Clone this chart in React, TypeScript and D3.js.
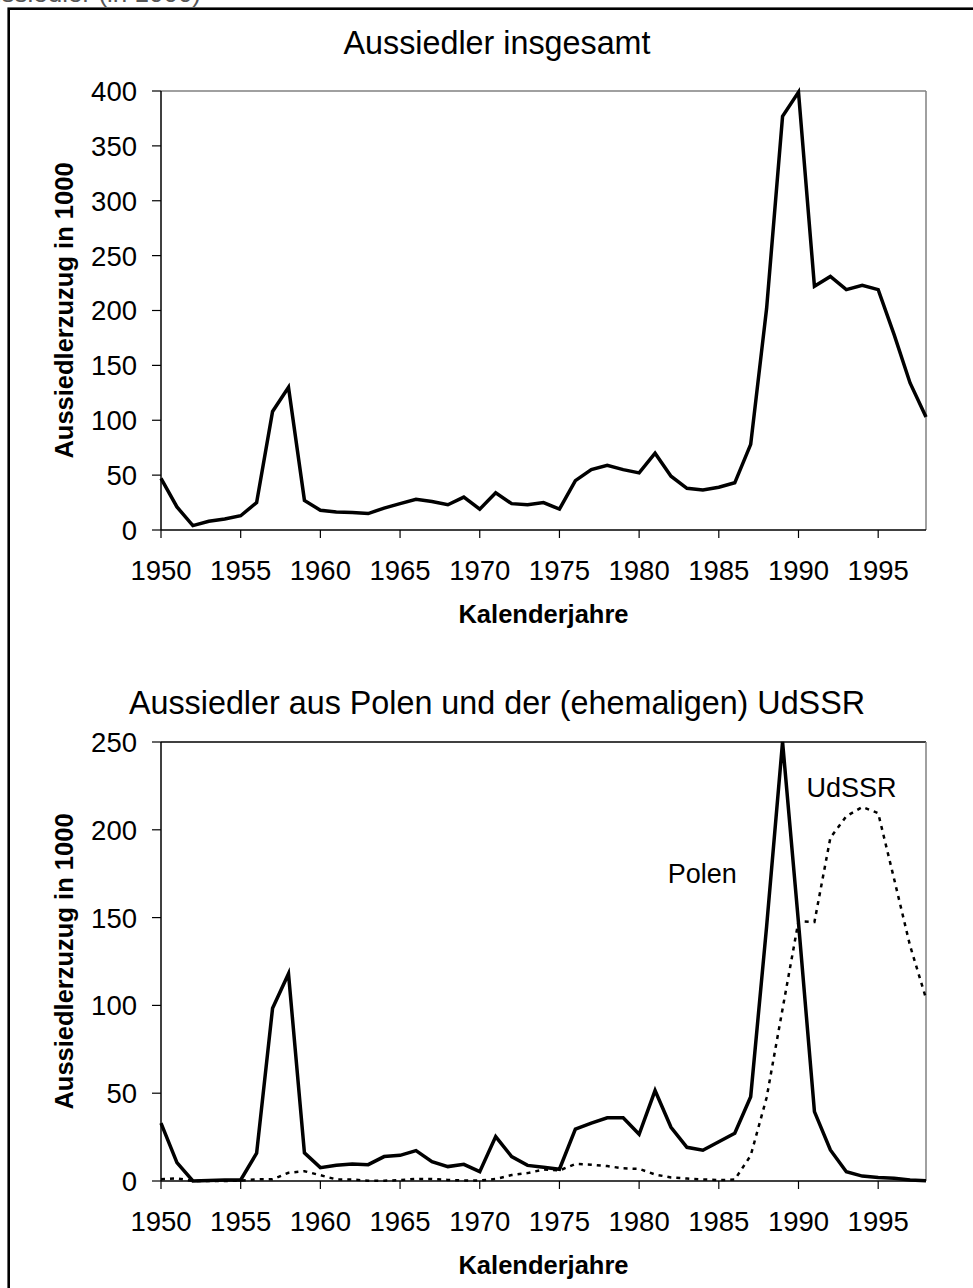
import React from "react";
import * as d3 from "d3";

const years = d3.range(1950, 1999);

// Aussiedler insgesamt (in 1000)
const totalValues = [
  47, 21, 4, 8, 10, 13, 25, 108, 130, 27,
  18, 16.5, 16, 15, 20, 24, 28, 26, 23, 30,
  19, 34, 24, 23, 25, 19, 45, 55, 59, 55,
  52, 70, 49, 38, 36.5, 39, 43, 78, 202, 377,
  399, 222, 231, 219, 223, 219, 178, 134, 103
];

// Polen (in 1000)
const polenValues = [
  33, 10.5, 0, 0.3, 0.5, 0.6, 15.8, 98.4, 118, 16,
  7.6, 9, 9.7, 9.3, 13.9, 14.6, 17.3, 11, 8.2, 9.5,
  5.3, 25.3, 13.9, 8.9, 7.8, 6.7, 29.5, 33, 36, 36,
  26.6, 51.5, 30.6, 19.2, 17.5, 22.4, 27.2, 48, 145, 250,
  147, 39.5, 17.7, 5.3, 2.8, 2, 1.5, 0.6, 0.2
];

// (ehemalige) UdSSR (in 1000)
const udssrValues = [
  1, 1.5, 0, 0, 0, 0.2, 1, 1, 4.7, 5.6,
  3.3, 0.9, 0.8, 0.2, 0.2, 0.5, 1.2, 1.1, 0.6, 0.3,
  0.3, 1.1, 3.4, 4.5, 6.5, 6, 9.7, 9.3, 8.5, 7.2,
  6.9, 3.7, 2, 1.4, 0.9, 0.5, 0.8, 14.5, 47.5, 98,
  148, 147.5, 195.5, 207.7, 213, 209.5, 172, 134, 104
];

const xTicks = [1950, 1955, 1960, 1965, 1970, 1975, 1980, 1985, 1990, 1995];
const topYTicks = [0, 50, 100, 150, 200, 250, 300, 350, 400];
const bottomYTicks = [0, 50, 100, 150, 200, 250];

const seriesLabels = [
  { name: "Polen", year: 1981.8, value: 169.7 },
  { name: "UdSSR", year: 1990.5, value: 218.6 }
];

const font = "'Liberation Sans', Arial, sans-serif";
const left = 161;
const right = 926;

type PanelProps = {
  title: string;
  titleY: number;
  top: number;
  bottom: number;
  yMax: number;
  yTicks: number[];
  topStroke: string;
  children: (
    x: d3.ScaleLinear<number, number>,
    y: d3.ScaleLinear<number, number>
  ) => React.ReactNode;
};

function Panel({ title, titleY, top, bottom, yMax, yTicks, topStroke, children }: PanelProps) {
  const x = d3.scaleLinear().domain([1950, 1998]).range([left, right]);
  const y = d3.scaleLinear().domain([0, yMax]).range([bottom, top]);
  return (
    <g>
      <text x={497} y={titleY} textAnchor="middle" fontSize={32.3}>
        {title}
      </text>
      {/* plot frame */}
      <line x1={left} x2={right} y1={top} y2={top} stroke={topStroke} strokeWidth={1.5} />
      <line x1={right} x2={right} y1={top} y2={bottom} stroke="#808080" strokeWidth={1.5} />
      {/* y axis */}
      <line x1={left} x2={left} y1={top} y2={bottom} stroke="#000" strokeWidth={1.5} />
      {yTicks.map((t) => (
        <g key={t}>
          <line x1={left - 9} x2={left} y1={y(t)} y2={y(t)} stroke="#000" strokeWidth={1.2} />
          <text x={137} y={y(t)} dy="0.36em" textAnchor="end" fontSize={27.5}>
            {t}
          </text>
        </g>
      ))}
      <text
        transform={`translate(73,${(top + bottom) / 2}) rotate(-90)`}
        textAnchor="middle"
        fontSize={25.5}
        fontWeight="bold"
      >
        Aussiedlerzuzug in 1000
      </text>
      {/* x axis */}
      <line x1={left} x2={right} y1={bottom} y2={bottom} stroke="#000" strokeWidth={1.5} />
      {xTicks.map((t) => (
        <g key={t}>
          <line x1={x(t)} x2={x(t)} y1={bottom} y2={bottom + 8} stroke="#000" strokeWidth={1.2} />
          <text x={x(t)} y={bottom + 50} textAnchor="middle" fontSize={27.5}>
            {t}
          </text>
        </g>
      ))}
      <text x={(left + right) / 2} y={bottom + 93} textAnchor="middle" fontSize={25.5} fontWeight="bold">
        Kalenderjahre
      </text>
      {children(x, y)}
    </g>
  );
}

export default function App() {
  const lineOf = (
    values: number[],
    x: d3.ScaleLinear<number, number>,
    y: d3.ScaleLinear<number, number>
  ) =>
    d3
      .line<number>()
      .x((d, i) => x(years[i]))
      .y((d) => y(d))(values) || "";

  return (
    <svg
      width={973}
      height={1288}
      style={{ position: "absolute", left: 0, top: 0, background: "#fff" }}
      fontFamily={font}
    >
      <rect width={973} height={1288} fill="#fff" />
      <text x={201} y={2} textAnchor="end" fontSize={26} fill="#555">
        Aussiedler (in 1000)
      </text>
      <rect x={8.7} y={8.7} width={1000} height={1400} fill="none" stroke="#000" strokeWidth={2.6} />

      <Panel
        title="Aussiedler insgesamt"
        titleY={54}
        top={91}
        bottom={530}
        yMax={400}
        yTicks={topYTicks}
        topStroke="#808080"
      >
        {(x, y) => (
          <path d={lineOf(totalValues, x, y)} fill="none" stroke="#000" strokeWidth={3.5} />
        )}
      </Panel>

      <Panel
        title="Aussiedler aus Polen und der (ehemaligen) UdSSR"
        titleY={714}
        top={742}
        bottom={1181}
        yMax={250}
        yTicks={bottomYTicks}
        topStroke="#000"
      >
        {(x, y) => (
          <g>
            <path
              d={lineOf(udssrValues, x, y)}
              fill="none"
              stroke="#000"
              strokeWidth={2.5}
              strokeDasharray="4 5"
            />
            <path d={lineOf(polenValues, x, y)} fill="none" stroke="#000" strokeWidth={3.5} />
            {seriesLabels.map((s) => (
              <text key={s.name} x={x(s.year)} y={y(s.value)} fontSize={27}>
                {s.name}
              </text>
            ))}
          </g>
        )}
      </Panel>
    </svg>
  );
}
